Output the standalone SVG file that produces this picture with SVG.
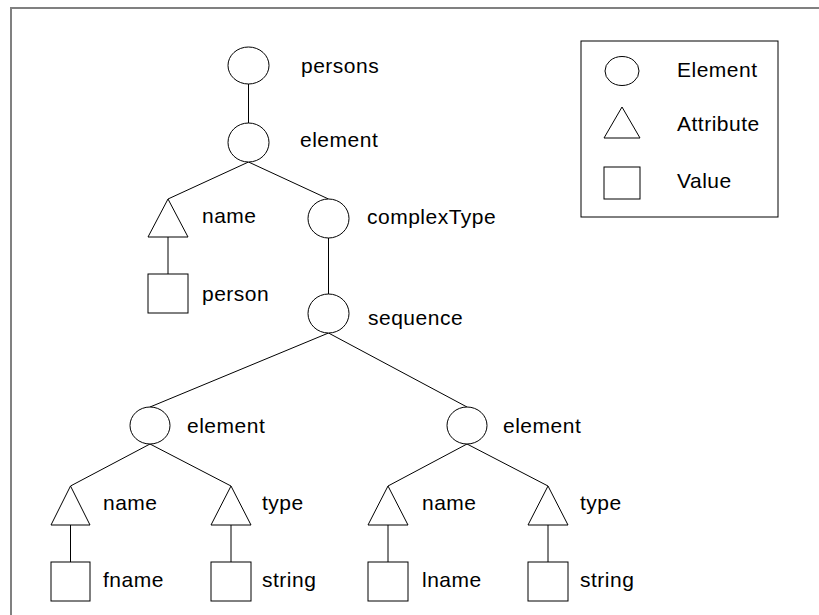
<svg xmlns="http://www.w3.org/2000/svg" width="819" height="615" viewBox="0 0 819 615">
  <style>
    .shape { fill: #ffffff; stroke: #000000; stroke-width: 1; }
    .edge { fill: none; stroke: #000000; stroke-width: 1; }
    .label { font-family: "Liberation Sans", Arial, sans-serif; font-size: 21px; letter-spacing: 0.5px; fill: #000000; }
  </style>
  <rect width="819" height="615" fill="#ffffff"/>
  <!-- page frame (top and left edges) -->
  <path d="M11,615 V8 H819" fill="none" stroke="#808080" stroke-width="2"/>

  <!-- connectors -->
  <g id="connectors" class="edge">
    <line x1="248.5" y1="84" x2="248.5" y2="123"/>
    <line x1="248.5" y1="162" x2="168" y2="199"/>
    <line x1="248.5" y1="162" x2="328.5" y2="199"/>
    <line x1="168" y1="237" x2="168" y2="274"/>
    <line x1="328.5" y1="238" x2="328.5" y2="294"/>
    <line x1="328.5" y1="333" x2="150" y2="407"/>
    <line x1="328.5" y1="333" x2="467" y2="407"/>
    <line x1="150" y1="444" x2="70.5" y2="486"/>
    <line x1="150" y1="444" x2="231" y2="486"/>
    <line x1="467" y1="444" x2="388" y2="486"/>
    <line x1="467" y1="444" x2="548" y2="486"/>
    <line x1="70.5" y1="525" x2="70.5" y2="562"/>
    <line x1="231" y1="525" x2="231" y2="562"/>
    <line x1="388" y1="525" x2="388" y2="562"/>
    <line x1="548" y1="525" x2="548" y2="562"/>
  </g>

  <!-- element nodes -->
  <g id="persons">
    <ellipse class="shape" cx="248.5" cy="65.5" rx="20.5" ry="18.5"/>
    <text class="label" x="301" y="73">persons</text>
  </g>
  <g id="element-root">
    <ellipse class="shape" cx="248.5" cy="142.5" rx="20.5" ry="19.5"/>
    <text class="label" x="300" y="147">element</text>
  </g>
  <g id="attr-name-root">
    <polygon class="shape" points="168,199 148,237 188,237"/>
    <text class="label" x="202" y="223">name</text>
  </g>
  <g id="value-person">
    <rect class="shape" x="148" y="274" width="40" height="39"/>
    <text class="label" x="202" y="301">person</text>
  </g>
  <g id="complexType">
    <ellipse class="shape" cx="328.5" cy="218.5" rx="20.5" ry="19.5"/>
    <text class="label" x="367" y="224">complexType</text>
  </g>
  <g id="sequence">
    <ellipse class="shape" cx="328.5" cy="313.5" rx="20.5" ry="19.5"/>
    <text class="label" x="368" y="325">sequence</text>
  </g>

  <!-- left element subtree -->
  <g id="element-left">
    <ellipse class="shape" cx="150" cy="425.5" rx="20" ry="18.5"/>
    <text class="label" x="187" y="433">element</text>
  </g>
  <g id="attr-name-left">
    <polygon class="shape" points="70.5,486 51,525 90,525"/>
    <text class="label" x="103" y="510">name</text>
  </g>
  <g id="attr-type-left">
    <polygon class="shape" points="231,486 211,525 251,525"/>
    <text class="label" x="262" y="510">type</text>
  </g>
  <g id="value-fname">
    <rect class="shape" x="51" y="562" width="39" height="39"/>
    <text class="label" x="103" y="587">fname</text>
  </g>
  <g id="value-string-left">
    <rect class="shape" x="211" y="562" width="40" height="39"/>
    <text class="label" x="262" y="587">string</text>
  </g>

  <!-- right element subtree -->
  <g id="element-right">
    <ellipse class="shape" cx="467" cy="425.5" rx="20" ry="18.5"/>
    <text class="label" x="503" y="433">element</text>
  </g>
  <g id="attr-name-right">
    <polygon class="shape" points="388,486 368,525 408,525"/>
    <text class="label" x="422" y="510">name</text>
  </g>
  <g id="attr-type-right">
    <polygon class="shape" points="548,486 528,525 568,525"/>
    <text class="label" x="580" y="510">type</text>
  </g>
  <g id="value-lname">
    <rect class="shape" x="368" y="562" width="40" height="39"/>
    <text class="label" x="422" y="587">lname</text>
  </g>
  <g id="value-string-right">
    <rect class="shape" x="528" y="562" width="40" height="39"/>
    <text class="label" x="580" y="587">string</text>
  </g>

  <!-- legend -->
  <g id="legend">
    <rect class="shape" x="581" y="41" width="197" height="176"/>
    <ellipse class="shape" cx="622" cy="71" rx="17" ry="14.5"/>
    <text class="label" x="677" y="77">Element</text>
    <polygon class="shape" points="622,107 604,138 640,138"/>
    <text class="label" x="677" y="131">Attribute</text>
    <rect class="shape" x="604" y="167" width="36" height="32"/>
    <text class="label" x="677" y="188">Value</text>
  </g>
</svg>
